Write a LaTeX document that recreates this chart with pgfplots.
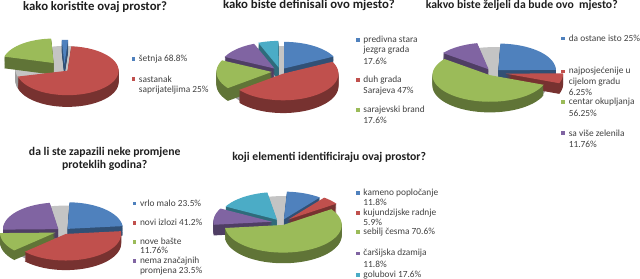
\documentclass[border=0pt]{standalone}
\usepackage{pgfplots}
\pgfplotsset{compat=1.18}
\usepackage{fontspec}
\setmainfont{Carlito}
\definecolor{cBlue}{HTML}{4F81BD}
\definecolor{cRed}{HTML}{C0504D}
\definecolor{cGreen}{HTML}{9BBB59}
\definecolor{cPurple}{HTML}{8064A2}
\definecolor{cTeal}{HTML}{4BACC6}
\definecolor{cBase}{HTML}{C4C4C4}
\definecolor{txt}{HTML}{404040}

% cx cy rx ry amin amax explode k color
\newcommand\drawwedge[9]{%
  \pgfmathsetmacro\wm{(#5+#6)/2}%
  \pgfmathsetmacro\wox{#1+#7*cos(\wm)}%
  \pgfmathsetmacro\woy{#2-#7*(#4/#3)*sin(\wm)+#8}%
  \edef\temp{\noexpand\addplot[fill=#9,draw=none,domain=#5:#6,samples=40]
    ({\wox+#3*cos(x)},{\woy-#4*sin(x)}) -- (axis cs:\wox,\woy) -- cycle;}%
  \temp}

% cx cy rx ry depth start scale list(gap/pct/color/explode)
\newcommand\drawpie[8]{%
  \pgfmathsetmacro\brx{#3*0.96}\pgfmathsetmacro\bry{#4*0.96}%
  \foreach \k in {#5,...,1}{\drawwedge{#1}{#2}{\brx}{\bry}{0}{360}{0}{\k}{cBase!80!black}}%
  \drawwedge{#1}{#2}{\brx}{\bry}{0}{360}{0}{0}{cBase}%
  \foreach \k in {#5,...,1}{%
    \gdef\angcur{#6}%
    \foreach \g/\p/\col/\e in {#8}{%
      \pgfmathsetmacro\aone{\angcur-\g}%
      \pgfmathsetmacro\atwo{\aone-\p*3.6*#7}%
      \xdef\angcur{\atwo}%
      \drawwedge{#1}{#2}{#3}{#4}{\atwo}{\aone}{\e}{\k}{\col!62!black}%
    }}%
  \gdef\angcur{#6}%
  \foreach \g/\p/\col/\e in {#8}{%
    \pgfmathsetmacro\aone{\angcur-\g}%
    \pgfmathsetmacro\atwo{\aone-\p*3.6*#7}%
    \xdef\angcur{\atwo}%
    \drawwedge{#1}{#2}{#3}{#4}{\atwo}{\aone}{\e}{0}{\col}%
  }}

\newcommand\lgm[3]{\node[fill=#3,inner sep=0pt,minimum size=3.6pt] at (axis cs:#1,#2) {};}
\newcommand\lgt[3]{\node[anchor=west,inner sep=0pt,text=txt,font=\fontsize{8.8}{10}\selectfont] at (axis cs:#1,#2) {#3};}
\newcommand\ttl[4]{\node[text=black!88,font=\bfseries\fontsize{#3}{#3}\selectfont,inner sep=0pt] at (axis cs:#1,#2) {#4};}

\begin{document}
\begin{tikzpicture}
\begin{axis}[
  width=640pt, height=278pt, scale only axis,
  xmin=0, xmax=640, ymin=0, ymax=278, y dir=reverse,
  hide axis, clip=false, no markers]

% ---- pie 1: kako koristite ovaj prostor?
\drawpie{81}{72}{48}{23}{11}{93}{1}{0/2/cBlue/10, 0/70/cRed/4, 29/20/cGreen/16}
% ---- pie 2: kako biste definisali ovo mjesto?
\drawpie{284}{74}{52}{25}{12}{90}{1}{0/17.6/cBlue/7, 0/47/cRed/5, 0/17.6/cGreen/8, 0/11.8/cPurple/8, 0/5.9/cTeal/8}
% ---- pie 3: kakvo biste zeljeli da bude ovo mjesto?
\drawpie{484}{75}{54}{25}{10}{88}{0.97}{0/25/cBlue/7, 0/6.25/cRed/12, 0/56.25/cGreen/6, 0/11.76/cPurple/8}
% ---- pie 4: da li ste zapazili neke promjene
\drawpie{80}{224}{52}{25}{9}{88}{0.97}{0/23.5/cBlue/6, 0/41.2/cRed/6, 0/11.76/cGreen/8, 0/23.5/cPurple/6}
% ---- pie 5: koji elementi identificiraju ovaj prostor?
\drawpie{285}{216}{55}{26}{10}{87}{0.82}{0/11.8/cBlue/7, 0/5.9/cRed/9, 0/70.6/cGreen/5, 0/11.8/cPurple/9, 0/17.6/cTeal/7}

% titles
\ttl{110}{13}{12}{kako koristite ovaj prostor?}
\ttl{311}{12}{12}{kako biste definisali ovo mjesto?}
\ttl{511}{12}{11}{kakvo biste željeli da bude ovo\ \ mjesto?}
\ttl{119}{150}{11}{da li ste zapazili neke promjene}
\ttl{119}{162}{11}{proteklih godina?}
\ttl{330}{155}{11}{koji elementi identificiraju ovaj prostor?}

% legend 1
\lgm{146}{62}{cBlue}\lgt{151}{62}{šetnja 68.8\%}
\lgm{146}{81}{cRed}\lgt{151}{81}{sastanak}
\lgt{151}{91}{saprijateljima 25\%}
% legend 2
\lgm{357}{44}{cBlue}\lgt{362}{44}{predivna stara}
\lgt{362}{54}{jezgra grada}
\lgt{362}{64}{17.6\%}
\lgm{357}{82}{cRed}\lgt{362}{82}{duh grada}
\lgt{362}{92}{Sarajeva 47\%}
\lgm{357}{110}{cGreen}\lgt{362}{110}{sarajevski brand}
\lgt{362}{120}{17.6\%}
% legend 3
\lgm{550}{43}{cBlue}\lgt{555}{43}{da ostane isto 25\%}
\lgm{550}{74}{cRed}\lgt{555}{74}{najposjećenije u}
\lgt{555}{84}{cijelom gradu}
\lgt{555}{94}{6.25\%}
\lgm{550}{103}{cGreen}\lgt{555}{103}{centar okupljanja}
\lgt{555}{113}{56.25\%}
\lgm{550}{132}{cPurple}\lgt{555}{132}{sa više zelenila}
\lgt{555}{142}{11.76\%}
% legend 4
\lgm{147}{198}{cBlue}\lgt{152}{198}{vrlo malo 23.5\%}
\lgm{147}{216}{cRed}\lgt{152}{216}{novi izlozi 41.2\%}
\lgm{147}{234}{cGreen}\lgt{152}{234}{nove bašte}
\lgt{152}{242}{11.76\%}
\lgm{147}{252}{cPurple}\lgt{152}{252}{nema značajnih}
\lgt{152}{262}{promjena 23.5\%}
% legend 5
\lgm{357}{188}{cBlue}\lgt{362}{188}{kameno popločanje}
\lgt{362}{197}{11.8\%}
\lgm{357}{207}{cRed}\lgt{362}{207}{kujundzijske radnje}
\lgt{362}{216}{5.9\%}
\lgm{357}{225}{cGreen}\lgt{362}{225}{sebilj česma 70.6\%}
\lgm{357}{245}{cPurple}\lgt{362}{245}{čaršijska dzamija}
\lgt{362}{255}{11.8\%}
\lgm{357}{265}{cTeal}\lgt{362}{265}{golubovi 17.6\%}

\end{axis}
\end{tikzpicture}
\end{document}
